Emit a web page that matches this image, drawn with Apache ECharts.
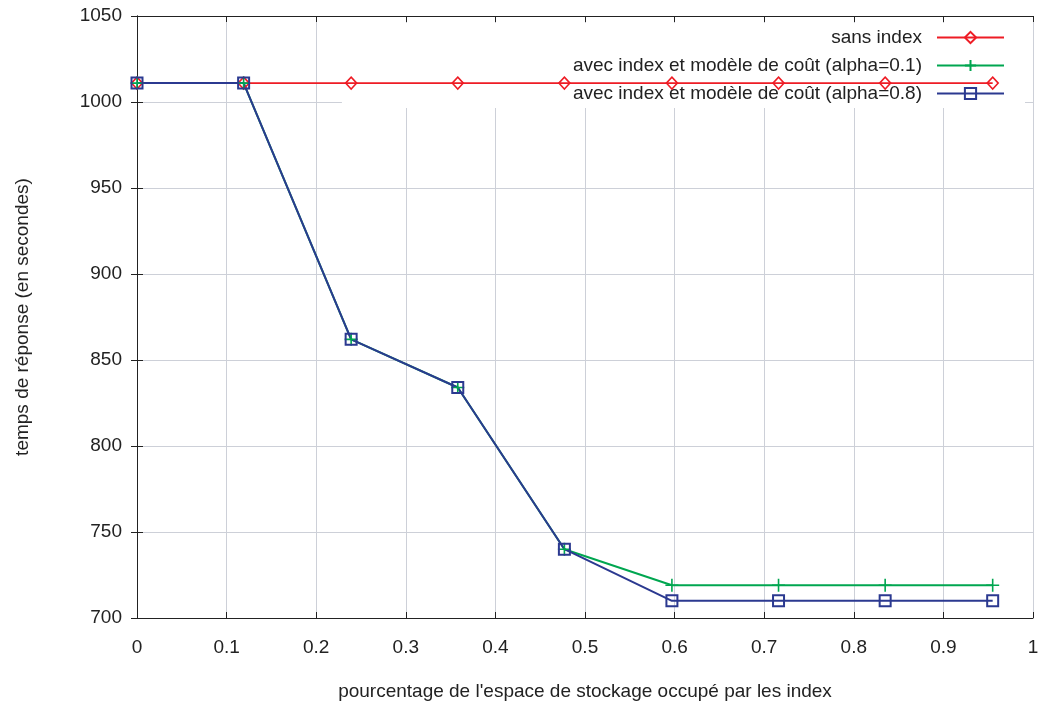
<!DOCTYPE html>
<html>
<head>
<meta charset="utf-8">
<script src="https://cdn.jsdelivr.net/npm/echarts@6/dist/echarts.min.js"></script>
<style>
html,body{margin:0;padding:0;background:#fff;}
#chart{width:1042px;height:702px;}
</style>
</head>
<body>
<div id="chart"></div>
<script>
const xValues = [0, 0.119, 0.239, 0.358, 0.477, 0.597, 0.716, 0.835, 0.955];
const sansIndex = [1011, 1011, 1011, 1011, 1011, 1011, 1011, 1011, 1011];
const alpha01 = [1011, 1011, 862, 834, 740, 719, 719, 719, 719];
const alpha08 = [1011, 1011, 862, 834, 740, 710, 710, 710, 710];
const seriesNames = ['sans index', 'avec index et modèle de coût (alpha=0.1)', 'avec index et modèle de coût (alpha=0.8)'];
const xAxisName = "pourcentage de l'espace de stockage occupé par les index";
const yAxisName = 'temps de réponse (en secondes)';

const pair = arr => xValues.map((x, i) => [x, arr[i]]);
const FONT = '"Liberation Sans", Arial, Helvetica, sans-serif';
const RED = '#ee1c25', GREEN = '#00a650', BLUE = '#2b3990';
const AX = '#222';
const GRID = '#cdd0d8';
const TXT = '#222';

const chart = echarts.init(document.getElementById('chart'), null, {renderer: 'canvas'});
chart.setOption({
  animation: false,
  backgroundColor: '#fff',
  textStyle: {fontFamily: FONT},
  grid: {left: 137, right: 9, top: 16, bottom: 84, containLabel: false, outerBoundsMode: 'none'},
  legend: {
    orient: 'vertical',
    align: 'right',
    right: 17,
    top: 23,
    z: 1,
    backgroundColor: '#fff',
    padding: [5, 20, 5, 231],
    itemWidth: 67,
    itemHeight: 14,
    itemGap: 9,
    textStyle: {fontFamily: FONT, fontSize: 19, lineHeight: 19, color: TXT, padding: [0, 10, 0, 0]},
    data: seriesNames
  },
  xAxis: [{
    type: 'value', min: 0, max: 1, interval: 0.1,
    name: xAxisName, nameLocation: 'middle', nameGap: 64,
    nameTextStyle: {fontFamily: FONT, fontSize: 19, color: TXT},
    axisLine: {show: true, lineStyle: {color: AX, width: 1}},
    axisTick: {show: true, inside: true, length: 6, lineStyle: {color: AX}},
    axisLabel: {fontFamily: FONT, fontSize: 19, color: TXT, margin: 20, formatter: v => String(v)},
    splitLine: {show: true, lineStyle: {color: GRID, width: 1}}
  }, {
    type: 'value', min: 0, max: 1, interval: 0.1, position: 'top',
    axisLine: {show: true, lineStyle: {color: AX, width: 1}},
    axisTick: {show: true, inside: true, length: 6, lineStyle: {color: AX}},
    axisLabel: {show: false},
    splitLine: {show: false}
  }],
  yAxis: [{
    type: 'value', min: 700, max: 1050, interval: 50,
    name: yAxisName, nameLocation: 'middle', nameGap: 105,
    nameTextStyle: {fontFamily: FONT, fontSize: 19, color: TXT},
    axisLine: {show: true, lineStyle: {color: AX, width: 1}},
    axisTick: {show: true, inside: true, length: 6, lineStyle: {color: AX}},
    axisLabel: {fontFamily: FONT, fontSize: 19, color: TXT, margin: 15, formatter: v => String(v)},
    splitLine: {show: true, lineStyle: {color: GRID, width: 1}}
  }, {
    type: 'value', min: 700, max: 1050, interval: 50, position: 'right',
    axisLine: {show: true, lineStyle: {color: AX, width: 1}},
    axisTick: {show: true, inside: true, length: 6, lineStyle: {color: AX}},
    axisLabel: {show: false},
    splitLine: {show: false}
  }],
  series: [{
    name: seriesNames[0], type: 'line', data: pair(sansIndex),
    symbol: 'diamond', symbolSize: [11, 12], showAllSymbol: true,
    lineStyle: {color: RED, width: 1.8},
    itemStyle: {color: 'rgba(0,0,0,0)', borderColor: RED, borderWidth: 1.6}
  }, {
    name: seriesNames[1], type: 'line', data: pair(alpha01),
    symbol: 'path://M5,0L5,10M0,5L10,5', symbolSize: 13, showAllSymbol: true,
    lineStyle: {color: GREEN, width: 2},
    itemStyle: {color: 'rgba(0,0,0,0)', borderColor: GREEN, borderWidth: 1.6}
  }, {
    name: seriesNames[2], type: 'line', data: pair(alpha08),
    symbol: 'rect', symbolSize: 11, showAllSymbol: true,
    lineStyle: {color: BLUE, width: 2},
    itemStyle: {color: 'rgba(0,0,0,0)', borderColor: BLUE, borderWidth: 2}
  }]
});
</script>
</body>
</html>
